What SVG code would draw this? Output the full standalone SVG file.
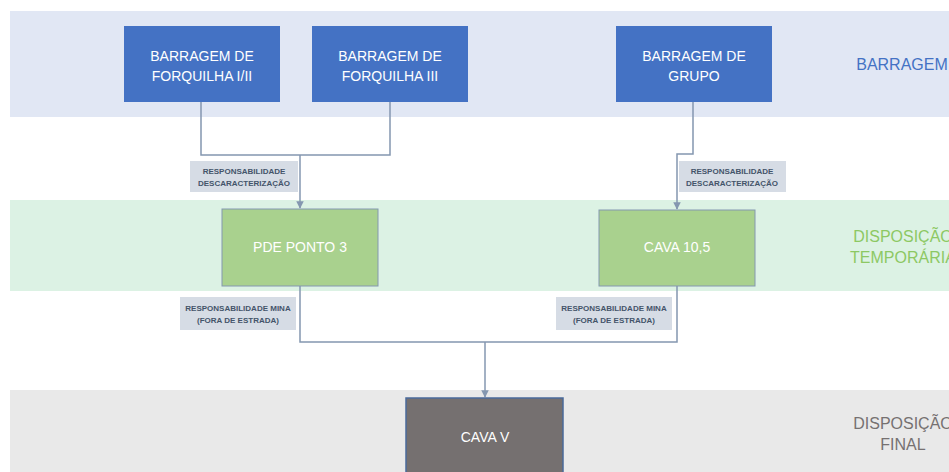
<svg xmlns="http://www.w3.org/2000/svg" width="949" height="472" viewBox="0 0 949 472">
<defs>
<style>
.band-text{font-family:"Liberation Sans",Arial,sans-serif;font-size:16px;text-anchor:middle}
.ntext{font-family:"Liberation Sans",Arial,sans-serif;font-size:14px;fill:#ffffff;text-anchor:middle}
.blue{fill:#4472C4}
.green{fill:#A9D18E;stroke:#8497B0;stroke-width:1}
.gray{fill:#757070;stroke:#4A6A9A;stroke-width:1.5}
.lbl{fill:#D6DCE5}
.ltext{font-family:"Liberation Sans",Arial,sans-serif;font-size:8px;font-weight:bold;fill:#44546A;text-anchor:middle}
.conn{fill:none;stroke:#8497B0;stroke-width:1.5}
</style>
<marker id="arr" viewBox="0 0 10 10" refX="9" refY="5" markerWidth="5" markerHeight="5" orient="auto">
<path d="M0,0 L10,5 L0,10 z" fill="#8497B0"/>
</marker>
</defs>
<rect width="949" height="472" fill="#ffffff"/>
<g id="bands">
<rect x="10" y="11" width="939" height="106" fill="#E1E7F4"/>
<rect x="10" y="200" width="939" height="91" fill="#DCF2E4"/>
<rect x="10" y="390" width="939" height="82" fill="#E9E9E9"/>
<text class="band-text" x="902" y="70" fill="#4472C4">BARRAGEM</text>
<text class="band-text" x="903" y="242" fill="#8DC863">DISPOSIÇÃO</text>
<text class="band-text" x="903" y="263" fill="#8DC863">TEMPORÁRIA</text>
<text class="band-text" x="903" y="429" fill="#767171">DISPOSIÇÃO</text>
<text class="band-text" x="903" y="450" fill="#767171">FINAL</text>
</g>
<g id="connectors">
<path class="conn" d="M201,102 V155 H390 V102"/>
<path class="conn" d="M300,155 V208" marker-end="url(#arr)"/>
<path class="conn" d="M693,102 V154 H677 V209" marker-end="url(#arr)"/>
<path class="conn" d="M300,286 V342 H677 V286"/>
<path class="conn" d="M485,342 V397" marker-end="url(#arr)"/>
</g>
<g id="label-desc-1">
<rect class="lbl" x="190" y="161" width="108" height="31"/>
<text class="ltext" x="244" y="174">RESPONSABILIDADE</text>
<text class="ltext" x="244" y="186">DESCARACTERIZAÇÃO</text>
</g>
<g id="label-desc-2">
<rect class="lbl" x="679" y="161" width="107" height="31"/>
<text class="ltext" x="732" y="174">RESPONSABILIDADE</text>
<text class="ltext" x="732" y="186">DESCARACTERIZAÇÃO</text>
</g>
<g id="label-mina-1">
<rect class="lbl" x="180" y="297" width="116" height="33"/>
<text class="ltext" x="238" y="311">RESPONSABILIDADE MINA</text>
<text class="ltext" x="238" y="323">(FORA DE ESTRADA)</text>
</g>
<g id="label-mina-2">
<rect class="lbl" x="556" y="297" width="116" height="33"/>
<text class="ltext" x="614" y="311">RESPONSABILIDADE MINA</text>
<text class="ltext" x="614" y="323">(FORA DE ESTRADA)</text>
</g>
<g id="node-forquilha-1-2">
<rect class="blue" x="124" y="26" width="156" height="76"/>
<text class="ntext" x="202" y="61">BARRAGEM DE</text>
<text class="ntext" x="202" y="81">FORQUILHA I/II</text>
</g>
<g id="node-forquilha-3">
<rect class="blue" x="312" y="26" width="156" height="76"/>
<text class="ntext" x="390" y="61">BARRAGEM DE</text>
<text class="ntext" x="390" y="81">FORQUILHA III</text>
</g>
<g id="node-grupo">
<rect class="blue" x="616" y="26" width="156" height="76"/>
<text class="ntext" x="694" y="61">BARRAGEM DE</text>
<text class="ntext" x="694" y="81">GRUPO</text>
</g>
<g id="node-pde-ponto-3">
<rect class="green" x="222" y="209" width="156" height="77"/>
<text class="ntext" x="300" y="252">PDE PONTO 3</text>
</g>
<g id="node-cava-10-5">
<rect class="green" x="599" y="210" width="156" height="76"/>
<text class="ntext" x="677" y="252">CAVA 10,5</text>
</g>
<g id="node-cava-v">
<rect class="gray" x="406" y="398" width="157" height="80"/>
<text class="ntext" x="485" y="442">CAVA V</text>
</g>
</svg>
